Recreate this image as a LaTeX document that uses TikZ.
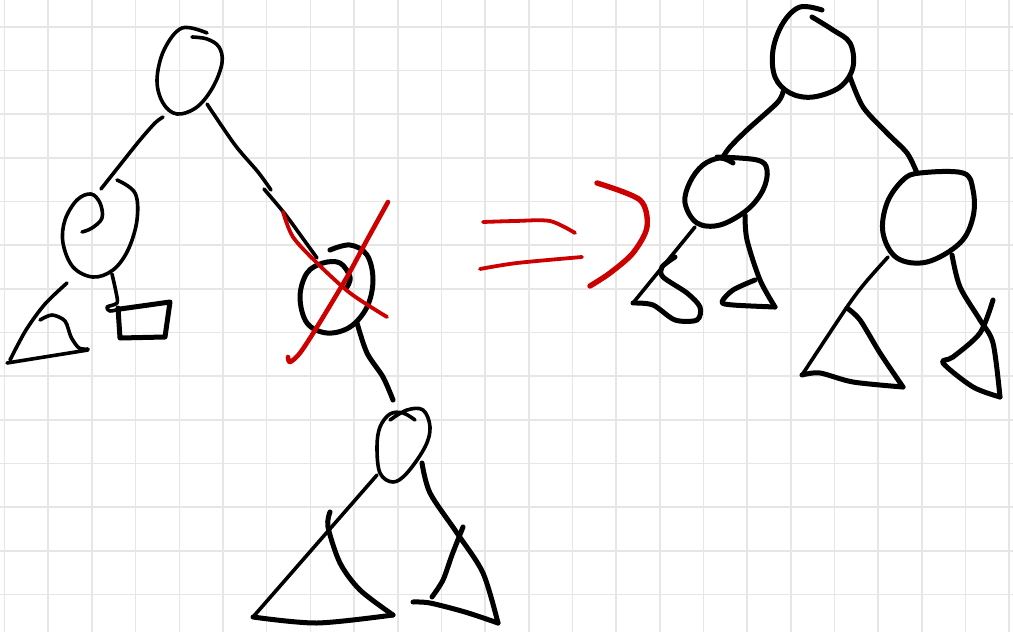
\documentclass[tikz,border=0pt]{standalone}
\usetikzlibrary{calc}
\definecolor{pen red}{RGB}{204,0,0}
\definecolor{grid gray}{RGB}{230,230,230}
\tikzset{
  gridline/.style={grid gray, line width=1.6pt},
  ink/.style={black, line width=3.6pt, line cap=round, line join=round},
  thickink/.style={ink, line width=5pt},
  redink/.style={pen red, line width=3.8pt, line cap=round, line join=round},
}
\begin{document}
\begin{tikzpicture}[x=1pt, y=-1pt]
  \useasboundingbox[fill=white] (0,0) rectangle (1013,632);
  % grid paper
  \foreach \i in {0,...,23}
    \draw[gridline] ({4.6+43.68*\i},0) -- ({4.6+43.68*\i},632);
  \foreach \j in {0,...,13}
    \draw[gridline] (0,{26.7+43.68*\j}) -- (1013,{26.7+43.68*\j});

  % left tree, root
  \draw[ink] plot[smooth, tension=0.6] coordinates {(207,33) (182,28) (164,50) (157,80) (163,103) (177,114) (197,107) (213,87) (222,63) (219,47) (207,39) (192,37)};
  \draw[ink] plot[smooth] coordinates {(163,117) (155,123) (140,140) (120,165) (101,189)};
  \draw[ink] plot[smooth] coordinates {(207,104) (235,145) (258,172) (271,190)};
  \draw[ink] plot[smooth] coordinates {(264,189) (285,214) (304,240) (317,258)};
  % left child
  \draw[ink] plot[smooth, tension=0.6] coordinates {(117,180) (135,193) (137,220) (128,250) (113,270) (93,277) (73,267) (63,243) (65,220) (77,200) (91,194) (100,203) (102,218) (92,228) (82,232)};
  \draw[ink] plot[smooth] coordinates {(67,283) (45,304) (26,330) (10,360)};
  \draw[ink] (7,363) -- (88,350);
  \draw[ink] plot[smooth] coordinates {(40,320) (52,315) (65,321) (71,337) (79,348) (88,349)};
  \draw[ink] plot[smooth] coordinates {(112,274) (116,292) (117,303) (107,307) (110,311) (120,309)};
  \draw[thickink] (120,309) -- (170,302) -- (165,337) -- (120,338) -- (118,308);
  % crossed out node
  \draw[thickink] plot[smooth, tension=0.6] coordinates {(330,250) (350,245) (367,255) (373,280) (367,307) (350,327) (327,333) (307,323) (300,297) (307,273) (323,263) (340,263) (350,277) (347,287)};
  \draw[thickink] plot[smooth] coordinates {(357,323) (367,353) (383,377) (393,400)};
  % bottom node
  \draw[ink] plot[smooth, tension=0.6] coordinates {(390,420) (407,410) (423,410) (430,427) (425,447) (407,473) (393,482) (380,473) (377,447) (380,427) (390,414) (403,413) (415,420)};
  \draw[ink] (377,475) -- (253,617);
  \draw[thickink] plot[smooth] coordinates {(253,617) (317,623) (393,615)};
  \draw[thickink] plot[smooth] coordinates {(330,512) (328,527) (340,563) (360,590) (393,615)};
  \draw[thickink] plot[smooth] coordinates {(422,463) (430,493) (457,533) (483,573) (498,623)};
  \draw[thickink] plot[smooth] coordinates {(498,623) (465,612) (430,603) (413,602)};
  \draw[thickink] plot[smooth] coordinates {(463,527) (452,555) (443,580) (432,597)};
  % red cross
  \draw[redink] plot[smooth] coordinates {(283,212) (293,237) (317,263) (350,293) (387,317)};
  \draw[redink, line width=4.6pt] plot[smooth] coordinates {(388,202) (367,240) (347,277) (317,327) (300,353) (290,362) (288,357)};
  % red arrow
  \draw[redink] plot[smooth] coordinates {(483,222) (515,221) (550,221) (575,233)};
  \draw[redink] plot[smooth] coordinates {(480,269) (517,263) (582,257)};
  \draw[redink, line width=5.4pt] plot[smooth] coordinates {(597,183) (640,200) (647,227) (633,253) (610,273) (590,286)};

  % right tree, root
  \draw[thickink] plot[smooth, tension=0.6] coordinates {(822,10) (800,7) (783,23) (773,50) (775,77) (790,93) (813,97) (840,87) (853,67) (850,43) (833,30) (812,17)};
  \draw[thickink] plot[smooth] coordinates {(783,92) (777,103) (747,130) (730,147) (723,157)};
  \draw[thickink] plot[smooth] coordinates {(850,77) (863,107) (887,133) (907,153) (917,173)};
  % left child
  \draw[thickink] plot[smooth, tension=0.6] coordinates {(717,157) (757,160) (767,170) (763,190) (747,210) (720,225) (697,223) (685,203) (690,182) (703,165) (720,158) (733,163)};
  \draw[ink] (695,227) -- (633,303);
  \draw[thickink] plot[smooth] coordinates {(633,303) (653,305) (675,320) (697,320) (700,307) (687,293) (663,277) (662,267) (675,257)};
  \draw[thickink] plot[smooth] coordinates {(745,215) (747,240) (760,280) (775,307)};
  \draw[thickink] plot[smooth] coordinates {(775,307) (733,305) (722,302) (733,290) (755,280)};
  % right child
  \draw[thickink] plot[smooth cycle, tension=0.6] coordinates {(920,173) (963,173) (973,190) (973,217) (960,243) (927,262) (897,258) (883,233) (887,203) (903,180)};
  \draw[ink] plot[smooth] coordinates {(888,257) (865,283) (847,307) (802,375)};
  \draw[thickink] plot[smooth] coordinates {(802,375) (820,373) (853,382) (903,387)};
  \draw[thickink] plot[smooth] coordinates {(847,308) (860,320) (880,353) (903,387)};
  \draw[thickink] plot[smooth] coordinates {(952,255) (960,287) (980,320) (993,343) (1000,397)};
  \draw[thickink] plot[smooth] coordinates {(1000,397) (973,387) (943,363) (953,357) (980,333) (993,300)};
\end{tikzpicture}
\end{document}
